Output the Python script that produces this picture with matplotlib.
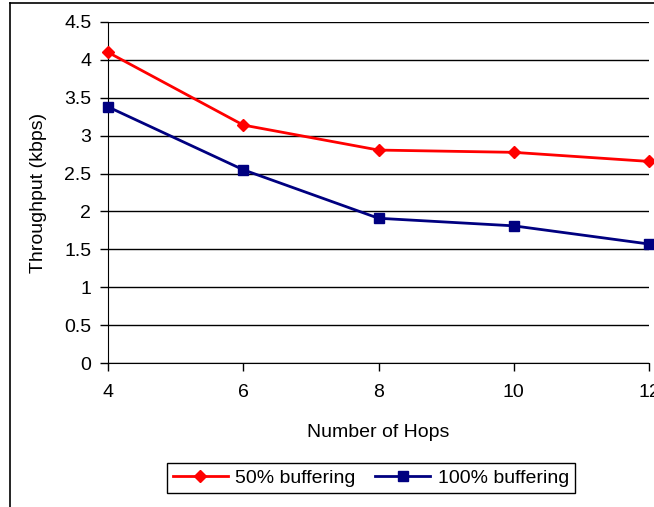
import matplotlib.pyplot as plt
from matplotlib.lines import Line2D

plt.rcParams['font.family'] = ['Liberation Sans', 'DejaVu Sans']

hops = [4, 6, 8, 10, 12]
buf50 = [4.10, 3.14, 2.81, 2.78, 2.66]
buf100 = [3.38, 2.55, 1.91, 1.81, 1.57]
yticks = [0, 0.5, 1, 1.5, 2, 2.5, 3, 3.5, 4, 4.5]

fig = plt.figure(figsize=(6.54, 5.07), dpi=100)
ax = fig.add_axes([108/654, 1-363/507, 541/654, 341/507])

ax.plot(hops, buf50, color='#ff0000', lw=2, marker='D', ms=6, label='50% buffering', clip_on=False, zorder=3)
ax.plot(hops, buf100, color='#000080', lw=2, marker='s', ms=7, label='100% buffering', clip_on=False, zorder=3)

ax.set_xlim(4, 12)
ax.set_ylim(0, 4.5)
ax.set_xticks(hops)
ax.set_yticks(yticks)
ax.set_yticklabels([f'{v:g}' for v in yticks])
ax.grid(axis='y', color='black', lw=1)
ax.set_axisbelow(True)
for s in ['top', 'right']:
    ax.spines[s].set_visible(False)
ax.tick_params(direction='out', length=6, width=1, labelsize=14)
ax.tick_params(axis='x', pad=9)
ax.tick_params(axis='y', pad=6)
ax.set_xlabel('Number of Hops', fontsize=14, labelpad=17)
ax.set_ylabel('Throughput (kbps)', fontsize=14, labelpad=12)

fig.legend(loc='center', bbox_to_anchor=(371/654, 1-478/507), ncol=2, fontsize=14,
           frameon=True, fancybox=False, edgecolor='black', framealpha=1,
           handlelength=2.8, columnspacing=1.0, handletextpad=0.4, borderpad=0.3)

# outer chart-area border (left and top edges visible)
fig.add_artist(Line2D([10/654, 10/654], [0, 1-3/507], color='black', lw=1.2))
fig.add_artist(Line2D([10/654, 1], [1-3/507, 1-3/507], color='black', lw=1.2))

fig.savefig('out.png', dpi=100)
